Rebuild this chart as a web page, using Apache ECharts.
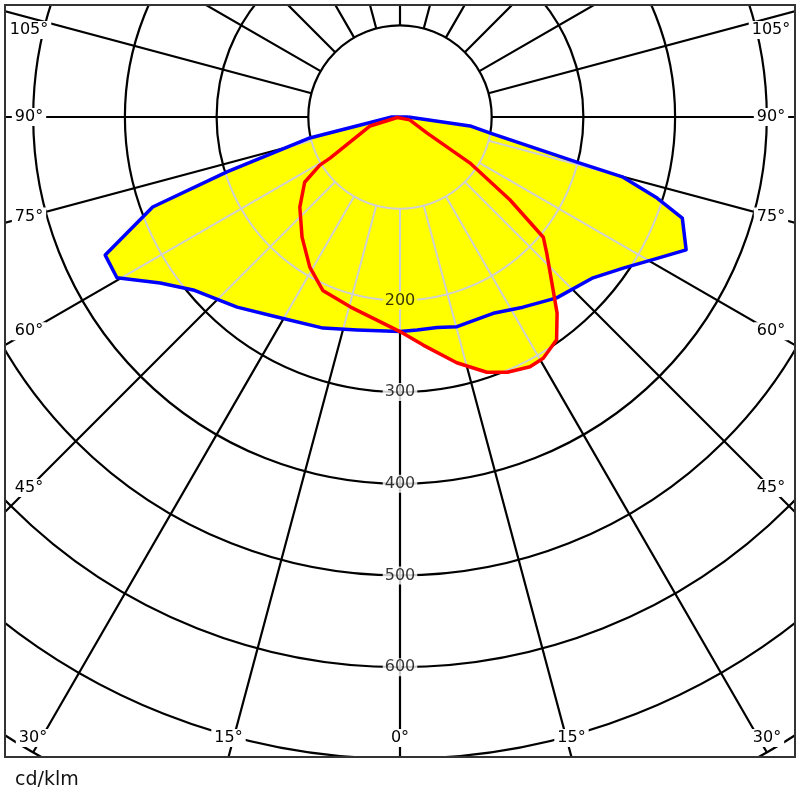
<!DOCTYPE html>
<html>
<head>
<meta charset="utf-8">
<script src="https://cdn.jsdelivr.net/npm/echarts@6/dist/echarts.min.js"></script>
<style>
html,body{margin:0;padding:0;background:#fff;}
#c{width:800px;height:800px;}
</style>
</head>
<body>
<div id="c"></div>
<script>
// ---- DATA (gamma in degrees from nadir, intensity in cd/klm) ----
// C0-C180 plane (blue)
const blueRightGamma = [90, 82.7, 79.9, 75.7, 74.9, 72.5, 70.3, 65.1, 61.2, 55.9, 50.2, 40.9, 32.9, 25.4, 15.2, 10.0, 4.6, 0];
const blueRightValue = [9, 77, 100, 199, 252, 294, 327, 344, 320, 294, 274, 261, 247, 237, 237, 233, 233, 234];
const blueLeftGamma  = [0, 11.4, 20.0, 31.6, 40.6, 50.1, 55.3, 60.4, 64.9, 70.0, 72.4, 76.9, 90];
const blueLeftValue  = [234, 237, 245, 256, 273, 294, 318, 355, 355, 287, 198, 101, 9];
// C90-C270 plane (red)
const redRightGamma = [73.3, 59.3, 56.7, 53.0, 50.0, 47.2, 41.5, 38.7, 35.1, 30.7, 27.5, 22.8, 18.8, 13.0, 5.8, 0];
const redRightValue = [11, 34, 91, 150, 204, 218, 252, 274, 297, 306, 307, 302, 294, 275, 250, 234];
const redLeftGamma  = [0, 6.5, 14.7, 24.0, 31.0, 39.2, 48.0, 55.6, 59.0, 59.6, 73.3, 80];
const redLeftValue  = [234, 223, 214, 207, 191, 169, 147, 126, 102, 88, 34, 3];

// axis ticks / labels
const radialMax = 800;
const ringStep = 100;
const innerRing = 100;
const spokeStep = 15;
const radialTickLabels = [200, 300, 400, 500, 600];
const angleTickGammas = [0, 15, 30, 45, 60, 75, 90, 105];
const unitLabel = 'cd/klm';

// ---- layout / style ----
const CX = 400, CY = 117;
const PX_PER_UNIT = 0.917;
const R_OUT = radialMax * PX_PER_UNIT;
const R_IN = innerRing * PX_PER_UNIT;
const FILL = '#ffff00';
const FONT = '"DejaVu Sans", Verdana, sans-serif';

const toLeft = g => g;
const toRight = g => 360 - g;
function buildPath(rg, rv, lg, lv) {
  const pts = [];
  rg.forEach((g, i) => pts.push([rv[i], toRight(g)]));
  lg.forEach((g, i) => pts.push([lv[i], toLeft(g)]));
  pts.push(pts[0].slice());
  return pts;
}
const bluePath = buildPath(blueRightGamma, blueRightValue, blueLeftGamma, blueLeftValue);
const redPath = buildPath(redRightGamma, redRightValue, redLeftGamma, redLeftValue);
const zeroLevel = Math.max(blueLeftValue[0], redLeftValue[0]);

function pip(x, y, poly) {
  let ins = false;
  for (let i = 0, j = poly.length - 1; i < poly.length; j = i++) {
    const xi = poly[i][0], yi = poly[i][1], xj = poly[j][0], yj = poly[j][1];
    if (((yi > y) !== (yj > y)) && (x < (xj - xi) * (y - yi) / (yj - yi) + xi)) ins = !ins;
  }
  return ins;
}

function renderGrid(params, api) {
  const polys = [bluePath.map(p => api.coord(p)), redPath.map(p => api.coord(p))];
  const inside = (p) => polys.some(poly => pip(p[0], p[1], poly));
  const children = [];
  const style = { stroke: '#d0d0d0', lineWidth: 2, fill: 'none' };
  function addRuns(samples) {
    let run = [];
    samples.forEach(p => {
      if (inside(p)) { run.push(p); }
      else { if (run.length > 1) children.push({ type: 'polyline', shape: { points: run }, style: style }); run = []; }
    });
    if (run.length > 1) children.push({ type: 'polyline', shape: { points: run }, style: style });
  }
  for (let c = ringStep; c <= radialMax; c += ringStep) {
    const s = [];
    for (let a = 0; a <= 360; a += 0.25) s.push(api.coord([c, a]));
    addRuns(s);
  }
  for (let a = 0; a < 360; a += spokeStep) {
    const s = [];
    for (let r = innerRing; r <= radialMax; r += 0.5) s.push(api.coord([r, a]));
    addRuns(s);
  }
  return { type: 'group', children: children };
}

function angleLabelPos(g, side) {
  const rad = g * Math.PI / 180;
  const dx = Math.sin(rad) * side, dy = Math.cos(rad);
  if (g >= 40) {
    const x = side < 0 ? 29 : 771;
    const t = (x - CX) / dx;
    return [x, Math.max(30, CY + t * dy)];
  }
  if (g === 0) return [CX, 738];
  const t = (757 - CY) / dy;
  let x = CX + t * dx;
  x = side < 0 ? Math.max(33, x) : Math.min(767, x);
  return [x, 738];
}

const graphics = [
  { type: 'rect', shape: { x: 0, y: 0, width: 800, height: 5 }, style: { fill: '#fff' }, z: 100, silent: true },
  { type: 'rect', shape: { x: 0, y: 0, width: 5, height: 800 }, style: { fill: '#fff' }, z: 100, silent: true },
  { type: 'rect', shape: { x: 795, y: 0, width: 5, height: 800 }, style: { fill: '#fff' }, z: 100, silent: true },
  { type: 'rect', shape: { x: 0, y: 757, width: 800, height: 43 }, style: { fill: '#fff' }, z: 100, silent: true },
  { type: 'rect', shape: { x: 5, y: 5, width: 790, height: 752 }, style: { fill: 'none', stroke: '#333', lineWidth: 2 }, z: 101, silent: true },
  { type: 'text', x: 15, y: 780, style: { text: unitLabel, font: '19px ' + FONT, fill: '#111', verticalAlign: 'middle', align: 'left' }, z: 102, silent: true }
];
angleTickGammas.forEach(g => {
  const sides = g === 0 ? [-1] : [-1, 1];
  sides.forEach(side => {
    const p = angleLabelPos(g, side);
    graphics.push({
      type: 'text', x: p[0], y: p[1], z: 102, silent: true,
      style: { text: g + '°', font: '16px ' + FONT, fill: '#000', align: 'center', verticalAlign: 'middle', backgroundColor: '#fff', padding: [1, 3] }
    });
  });
});

const chart = echarts.init(document.getElementById('c'), null, { renderer: 'canvas', width: 800, height: 800 });
chart.setOption({
  animation: false,
  backgroundColor: '#fff',
  polar: [
    { center: [CX, CY], radius: R_OUT },
    { center: [CX, CY], radius: [R_IN, R_OUT] }
  ],
  radiusAxis: [
    { polarIndex: 0, type: 'value', min: 0, max: radialMax, interval: ringStep,
      axisLine: { show: false }, axisTick: { show: false }, axisLabel: { show: false },
      splitLine: { show: true, lineStyle: { color: '#000', width: 2.2 } } },
    { polarIndex: 1, type: 'value', min: innerRing, max: radialMax, interval: ringStep,
      axisLine: { show: false }, axisTick: { show: false }, axisLabel: { show: false }, splitLine: { show: false } }
  ],
  angleAxis: [
    { polarIndex: 0, type: 'value', min: 0, max: 360, interval: spokeStep, startAngle: 270, clockwise: true,
      axisLine: { show: false }, axisTick: { show: false }, axisLabel: { show: false }, splitLine: { show: false } },
    { polarIndex: 1, type: 'value', min: 0, max: 360, interval: spokeStep, startAngle: 270, clockwise: true,
      axisLine: { show: false }, axisTick: { show: false }, axisLabel: { show: false },
      splitLine: { show: true, lineStyle: { color: '#000', width: 2.2 } } }
  ],
  series: [
    { type: 'line', coordinateSystem: 'polar', polarIndex: 0, data: bluePath, symbol: 'none', z: 2, silent: true,
      lineStyle: { width: 0, opacity: 0 }, areaStyle: { color: FILL, opacity: 1 } },
    { type: 'line', coordinateSystem: 'polar', polarIndex: 0, data: redPath, symbol: 'none', z: 2, silent: true,
      lineStyle: { width: 0, opacity: 0 }, areaStyle: { color: FILL, opacity: 1 } },
    { type: 'custom', coordinateSystem: 'polar', polarIndex: 0, data: [[0, 0]], z: 3, silent: true, renderItem: renderGrid },
    { type: 'line', coordinateSystem: 'polar', polarIndex: 0, data: bluePath, symbol: 'none', z: 4, silent: true,
      lineStyle: { width: 3.5, color: '#0000ff', join: 'round' } },
    { type: 'line', coordinateSystem: 'polar', polarIndex: 0, data: redPath, symbol: 'none', z: 4, silent: true,
      lineStyle: { width: 3.5, color: '#ff0000', join: 'round' } },
    { type: 'scatter', coordinateSystem: 'polar', polarIndex: 0, z: 6, silent: true, symbolSize: 1,
      itemStyle: { color: 'rgba(0,0,0,0)' },
      data: radialTickLabels.map(v => ({ value: [v, 0], label: { backgroundColor: v < zeroLevel ? FILL : '#fff' } })),
      label: { show: true, position: 'inside', formatter: p => String(p.value[0]), fontSize: 16, fontFamily: 'DejaVu Sans',
        color: '#000', textBorderWidth: 0, textBorderColor: 'transparent', padding: [1, 2] } }
  ],
  graphic: graphics
});
</script>
</body>
</html>
